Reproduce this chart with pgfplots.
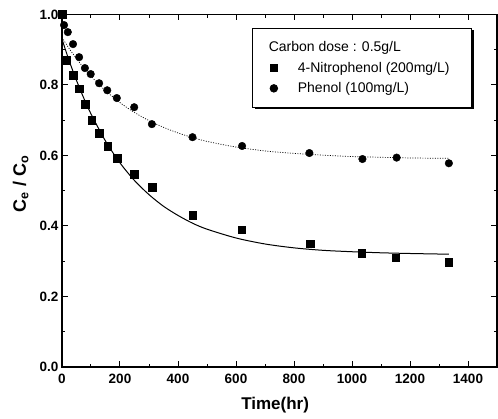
\documentclass[border=0pt]{standalone}
\usepackage{fontspec}
\setmainfont{Liberation Sans}
\usepackage{pgfplots}
\pgfplotsset{compat=1.18}
\usetikzlibrary{shadows}
\pgfplotsset{mylegimg/.style={legend image code/.code={\path[draw=none] (0bp,0bp) (43bp,0bp); \draw[mark repeat=1,mark phase=1,##1] plot coordinates {(21bp,0bp)};}}}

\begin{document}
\begin{tikzpicture}
\begin{axis}[
  scale only axis, width=435bp, height=352.5bp,
  xmin=0, xmax=1500, ymin=0, ymax=1.0,
  xtick={0,200,400,600,800,1000,1200,1400},
  ytick={0,0.2,0.4,0.6,0.8,1.0},
  minor x tick num=1, minor y tick num=1,
  tick align=inside,
  xtick pos=both, ytick pos=both,
  xticklabel pos=lower, yticklabel pos=left,
  major tick length=6bp, minor tick length=3.5bp,
  axis line style={line width=1.2bp},
  every tick/.style={black, line width=1bp},
  /pgf/number format/assume math mode=true,
  yticklabel style={/pgf/number format/.cd, fixed, fixed zerofill, precision=1},
  xticklabel style={/pgf/number format/1000 sep={}, yshift=-4bp},
  tick label style={font=\fontsize{13.5bp}{15bp}\selectfont\bfseries},
  xlabel={Time(hr)},
  xlabel style={at={(axis description cs:0.49,-0.108)}, anchor=center, font=\fontsize{17bp}{19bp}\selectfont\bfseries},
  ylabel={C\textsubscript{e} / C\textsubscript{o}},
  ylabel style={at={(axis description cs:-0.095,0.52)}, anchor=center, font=\fontsize{18bp}{20bp}\selectfont\bfseries},
  legend style={at={(0.9425,0.962)}, anchor=north east, draw=black, line width=0.8bp,
    fill=white, drop shadow={shadow xshift=2bp, shadow yshift=-2bp, fill=black, opacity=1},
    font=\fontsize{14bp}{16bp}\selectfont, row sep=5bp, inner xsep=0bp, inner ysep=11bp},
  legend cell align=left,
]
\addlegendimage{empty legend}
\addlegendentry{\hspace*{-29bp}Carbon dose : 0.5g/L}

\addplot[only marks, mark=square*, mark size=3.8bp, black, mylegimg] coordinates {
(0,1.0) (15,0.87) (38,0.828) (59,0.79) (80,0.745) (103,0.70) (128,0.663)
(157,0.626) (190,0.592) (248,0.547) (310,0.51) (450,0.43) (620,0.39)
(855,0.35) (1034,0.322) (1150,0.31) (1334,0.298)
};
\addlegendentry{4-Nitrophenol (200mg/L)\hspace*{20bp}}

\addplot[only marks, mark=*, mark size=3.8bp, black, mylegimg] coordinates {
(0,1.0) (7,0.97) (20,0.95) (38,0.916) (59,0.879) (79,0.848) (99,0.831)
(128,0.805) (156,0.785) (189,0.763) (249,0.737) (310,0.689) (450,0.652)
(621,0.627) (853,0.607) (1036,0.59) (1154,0.594) (1334,0.578)
};
\addlegendentry{Phenol (100mg/L)}

\addplot[forget plot, black, line width=1bp, smooth] coordinates {
(0,0.930) (25,0.868) (50,0.813) (75,0.763) (100,0.718) (150,0.641)
(200,0.579) (250,0.529) (300,0.489) (350,0.456) (400,0.430) (450,0.408)
(500,0.391) (600,0.366) (700,0.349) (800,0.338) (900,0.331) (1000,0.327)
(1100,0.324) (1200,0.322) (1334,0.320)
};

\addplot[forget plot, black, line width=0.7bp, dash pattern=on 1bp off 1.5bp, smooth] coordinates {
(0,0.935) (25,0.903) (50,0.875) (75,0.848) (100,0.825) (150,0.784)
(200,0.750) (250,0.722) (300,0.699) (350,0.680) (400,0.664) (450,0.651)
(500,0.640) (600,0.624) (700,0.613) (800,0.606) (900,0.601) (1000,0.597)
(1100,0.595) (1200,0.593) (1334,0.592)
};
\end{axis}
\pgfresetboundingbox
\path[use as bounding box] (-62bp,-52bp) rectangle (436bp,367bp);
\end{tikzpicture}
\end{document}
